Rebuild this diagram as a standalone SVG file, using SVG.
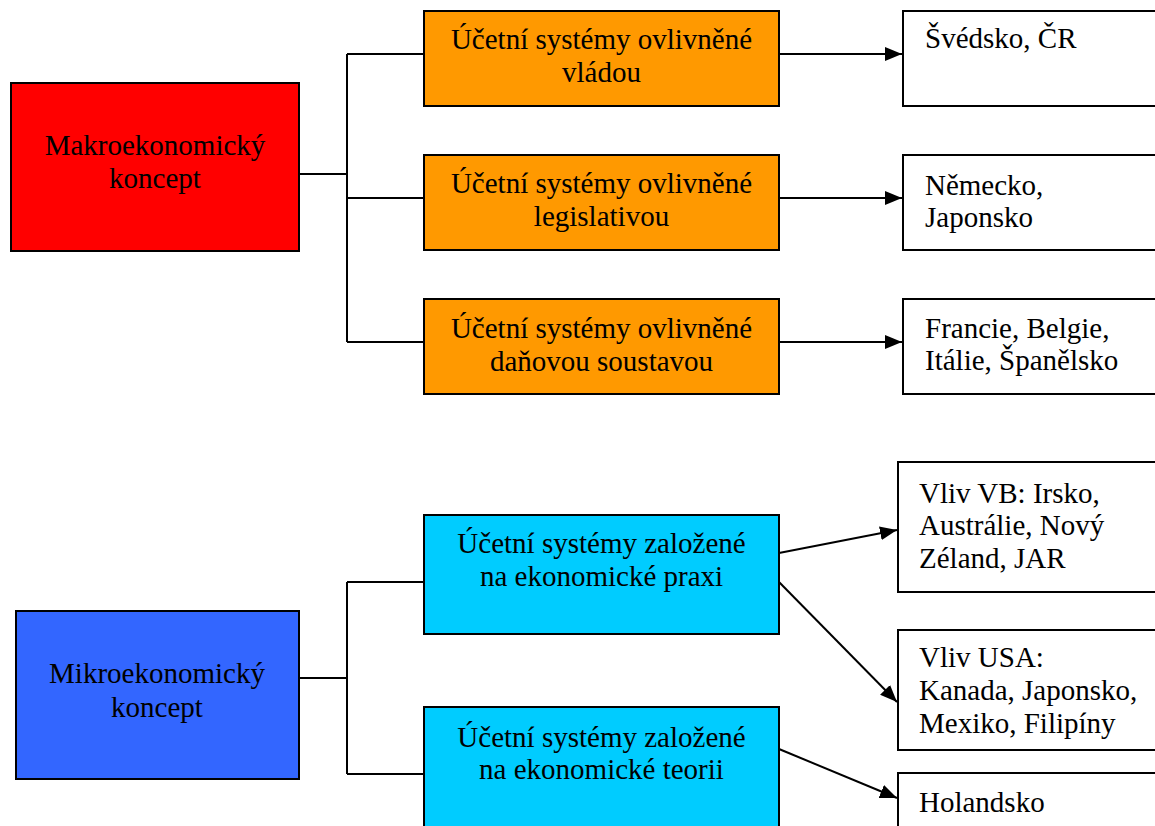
<svg xmlns="http://www.w3.org/2000/svg" width="1155" height="826" viewBox="0 0 1155 826">
<style>
.box{stroke:#000;stroke-width:2}
text{font-family:'Times New Roman','Liberation Serif','DejaVu Serif',serif;font-size:29px;fill:#000}
.c{text-anchor:middle}
.ln{fill:none;stroke:#000;stroke-width:2}
</style>
<defs>
<marker id="ah" markerUnits="userSpaceOnUse" markerWidth="18" markerHeight="14" refX="17" refY="7" orient="auto">
<path d="M0,0 L17,7 L0,14 Z" fill="#000"/>
</marker>
</defs>
<rect width="1155" height="826" fill="#fff"/>
<g id="connectors">
<path class="ln" d="M299,174 H347 M347,54 V342 M347,54 H424 M347,198 H424 M347,342 H424"/>
<path class="ln" d="M299,678 H347 M347,582 V774 M347,582 H424 M347,774 H424"/>
<line class="ln" x1="779" y1="54" x2="902" y2="54" marker-end="url(#ah)"/>
<line class="ln" x1="779" y1="198" x2="902" y2="198" marker-end="url(#ah)"/>
<line class="ln" x1="779" y1="342" x2="902" y2="342" marker-end="url(#ah)"/>
<line class="ln" x1="779" y1="553" x2="897" y2="530" marker-end="url(#ah)"/>
<line class="ln" x1="779" y1="582" x2="897" y2="702" marker-end="url(#ah)"/>
<line class="ln" x1="779" y1="749" x2="897" y2="798" marker-end="url(#ah)"/>
</g>
<g id="makro">
<rect class="box" x="11" y="83" width="288" height="168" fill="#FF0000"/>
<text font-family="Liberation Serif, serif" class="c" x="155" y="155">Makroekonomický</text>
<text font-family="Liberation Serif, serif" class="c" x="155" y="188">koncept</text>
</g>
<g id="vlada">
<rect class="box" x="424" y="11" width="355" height="95" fill="#FF9900"/>
<text class="c" x="601.5" y="49">Účetní systémy ovlivněné</text>
<text class="c" x="601.5" y="82">vládou</text>
</g>
<g id="legislativa">
<rect class="box" x="424" y="155" width="355" height="95" fill="#FF9900"/>
<text class="c" x="601.5" y="193">Účetní systémy ovlivněné</text>
<text class="c" x="601.5" y="226">legislativou</text>
</g>
<g id="dane">
<rect class="box" x="424" y="299" width="355" height="95" fill="#FF9900"/>
<text class="c" x="601.5" y="338">Účetní systémy ovlivněné</text>
<text class="c" x="601.5" y="371">daňovou soustavou</text>
</g>
<g id="svedsko">
<rect class="box" x="903" y="11" width="270" height="95" fill="#fff"/>
<text x="925" y="48">Švédsko, ČR</text>
</g>
<g id="nemecko">
<rect class="box" x="903" y="155" width="270" height="95" fill="#fff"/>
<text x="925" y="195">Německo,</text>
<text x="925" y="227">Japonsko</text>
</g>
<g id="francie">
<rect class="box" x="903" y="299" width="270" height="95" fill="#fff"/>
<text x="925" y="338">Francie, Belgie,</text>
<text x="925" y="370">Itálie, Španělsko</text>
</g>
<g id="mikro">
<rect class="box" x="16" y="611" width="283" height="168" fill="#3366FF"/>
<text class="c" x="157" y="683">Mikroekonomický</text>
<text class="c" x="157" y="717">koncept</text>
</g>
<g id="praxe">
<rect class="box" x="424" y="515" width="355" height="119" fill="#00CCFF"/>
<text class="c" x="601.5" y="553">Účetní systémy založené</text>
<text class="c" x="601.5" y="586">na ekonomické praxi</text>
</g>
<g id="teorie">
<rect class="box" x="424" y="707" width="355" height="140" fill="#00CCFF"/>
<text class="c" x="601.5" y="747">Účetní systémy založené</text>
<text class="c" x="601.5" y="779">na ekonomické teorii</text>
</g>
<g id="vb">
<rect class="box" x="898" y="462" width="275" height="130" fill="#fff"/>
<text x="919" y="503">Vliv VB: Irsko,</text>
<text x="919" y="535">Austrálie, Nový</text>
<text x="919" y="568">Zéland, JAR</text>
</g>
<g id="usa">
<rect class="box" x="898" y="630" width="275" height="120" fill="#fff"/>
<text x="919" y="667">Vliv USA:</text>
<text x="919" y="700">Kanada, Japonsko,</text>
<text x="919" y="733">Mexiko, Filipíny</text>
</g>
<g id="holandsko">
<rect class="box" x="898" y="773" width="275" height="80" fill="#fff"/>
<text x="919" y="812">Holandsko</text>
</g>
</svg>
